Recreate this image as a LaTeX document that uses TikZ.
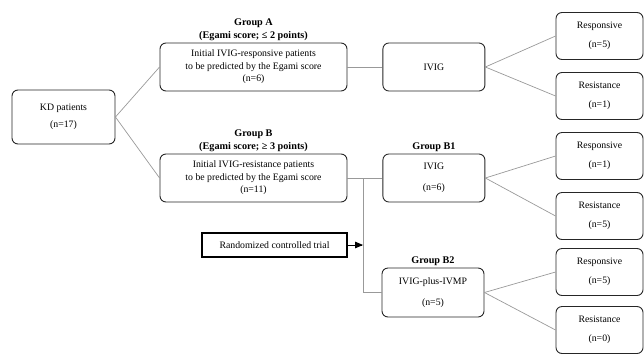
\documentclass[tikz,border=0pt]{standalone}
\usepackage{fontspec}
\setmainfont{Liberation Serif}
\usetikzlibrary{positioning,arrows}

\begin{document}
\begin{tikzpicture}[x=1pt,y=-1pt,
		box/.style={rectangle,rounded corners=6pt,draw=black!85,line width=0.9pt,align=center,inner sep=0pt,font=\fontsize{9.8}{12.5}\selectfont},
		kdbox/.style={box,minimum width=103pt,minimum height=54pt},
		grpbox/.style={box,minimum width=187pt,minimum height=48pt},
		armbox/.style={box,minimum width=102pt,minimum height=48pt},
		outbox/.style={box,minimum width=87pt,minimum height=47pt},
		trialbox/.style={rectangle,draw=black,line width=1.3pt,inner sep=0pt,minimum width=145pt,minimum height=24pt,font=\fontsize{9.8}{12}\selectfont},
		grplabel/.style={align=center,inner sep=1pt,font=\fontsize{10.2}{12.5}\selectfont\bfseries},
		link/.style={draw=black!40,line width=0.7pt}]

	\useasboundingbox (0,0) rectangle (644,354);

	\node[kdbox] (kd) at (63.5,117) {KD patients\\[5pt](n=17)};

	% group A
	\node[grpbox] (grpA) at (253.5,67) {Initial IVIG-responsive patients\\to be predicted by the Egami score\\(n=6)};
	\node[grplabel] (labA) [above=1pt of grpA] {Group A\\(Egami score; ≤ 2 points)};
	\node[armbox] (ivigA) [right=35pt of grpA] {IVIG};
	\node[outbox] (respA) at (599.5,36) {Responsive\\[6pt](n=5)};
	\node[outbox] (resA) at (599.5,96) {Resistance\\[6pt](n=1)};

	% group B
	\node[grpbox] (grpB) at (253.5,178) {Initial IVIG-resistance patients\\to be predicted by the Egami score\\(n=11)};
	\node[grplabel] (labB) [above=1pt of grpB] {Group B\\(Egami score; ≥ 3 points)};
	\node[armbox] (ivigB1) [right=35pt of grpB] {IVIG\\[8pt](n=6)};
	\node[grplabel] (labB1) [above=1pt of ivigB1] {Group B1};
	\node[armbox,minimum height=49pt] (ivigB2) at (433,292.5) {IVIG-plus-IVMP\\[8pt](n=5)};
	\node[grplabel] (labB2) [above=1pt of ivigB2] {Group B2};
	\node[outbox] (respB1) at (599.5,156) {Responsive\\[6pt](n=1)};
	\node[outbox] (resB1) at (599.5,216) {Resistance\\[6pt](n=5)};
	\node[outbox] (respB2) at (599.5,272) {Responsive\\[6pt](n=5)};
	\node[outbox] (resB2) at (599.5,330) {Resistance\\[6pt](n=0)};

	\node[trialbox] (rct) at (274.5,245) {Randomized controlled trial};

	\coordinate (split) at (363,178);
	\coordinate (splitlow) at (split |- ivigB2);
	\coordinate (rctend) at (split |- rct);

	% connectors
	\draw[link] (kd.east) -- (grpA.west);
	\draw[link] (kd.east) -- (grpB.west);
	\draw[link] (grpA) -- (ivigA);
	\draw[link] (ivigA.east) -- (respA.west);
	\draw[link] (ivigA.east) -- (resA.west);
	\draw[link] (grpB) -- (ivigB1);
	\draw[link] (split) -- (splitlow) -- (ivigB2.west);
	\draw[link] (ivigB1.east) -- (respB1.west);
	\draw[link] (ivigB1.east) -- (resB1.west);
	\draw[link] (ivigB2.east) -- (respB2.west);
	\draw[link] (ivigB2.east) -- (resB2.west);
	\draw[-triangle 45,line width=0.8pt] (rct) -- (rctend);
\end{tikzpicture}
\end{document}
